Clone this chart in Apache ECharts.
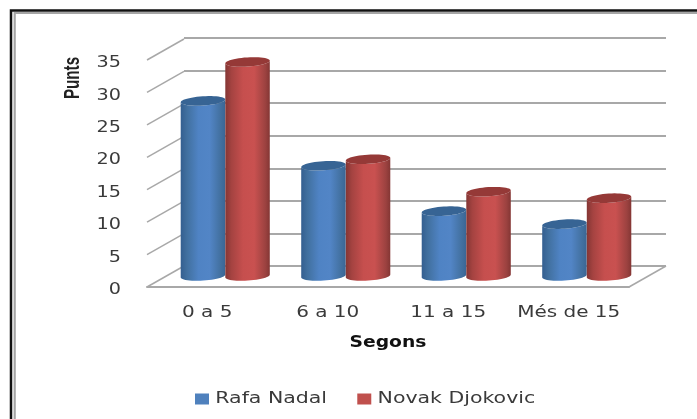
<!DOCTYPE html>
<html>
<head>
<meta charset="utf-8">
<style>
  html, body { margin: 0; padding: 0; background: #fff; }
  #main { width: 697px; height: 419px; }
</style>
<script src="https://cdn.jsdelivr.net/npm/echarts@6/dist/echarts.min.js"></script>
</head>
<body>
<div id="main"></div>
<script>
var categories = ['0 a 5', '6 a 10', '11 a 15', 'Més de 15'];
var seriesNames = ['Rafa Nadal', 'Novak Djokovic'];
var rafaNadal = [27, 17, 10, 8];
var novakDjokovic = [33, 18, 13, 12];
var ticks = [0, 5, 10, 15, 20, 25, 30, 35];

var FONT = '"DejaVu Sans"';
var TEXT = '#3a3a3a';
var GRID = '#a8a8a8';
var DEPTH_X = 37, DEPTH_Y = -21;

function pt(cx, cy, rx, ry, t) {
  // ellipse a bit tilted, like the excel 3d view
  var tilt = -0.065;
  var x = rx * Math.cos(t), y = ry * Math.sin(t);
  return [cx + x * Math.cos(tilt) - y * Math.sin(tilt), cy + x * Math.sin(tilt) + y * Math.cos(tilt)];
}

function cylinder(side, stops, topColor) {
  return function (params, api) {
    var idx = api.value(0);
    var top = api.coord([idx, api.value(1)]);
    var base = api.coord([idx, 0]);
    var rx = api.size([1, 0])[0] * 0.185;
    var cx = top[0] + side * rx;
    var ry = 4.6;
    var body = [], cap = [], i;
    for (i = 0; i <= 24; i++) body.push(pt(cx, base[1], rx, ry, Math.PI - Math.PI * i / 24));
    for (i = 0; i <= 24; i++) body.push(pt(cx, top[1], rx, ry, Math.PI * i / 24));
    for (i = 0; i < 48; i++) cap.push(pt(cx, top[1], rx, ry, Math.PI * 2 * i / 48));
    return {
      type: 'group',
      children: [
        {
          type: 'polygon',
          shape: { points: body },
          style: { fill: { type: 'linear', x: 0, y: 0, x2: 1, y2: 0, colorStops: stops } }
        },
        { type: 'polygon', shape: { points: cap }, style: { fill: topColor } }
      ]
    };
  };
}

var blueStops = [
  { offset: 0, color: '#345f90' }, { offset: 0.14, color: '#41709f' },
  { offset: 0.4, color: '#4f83c4' }, { offset: 0.65, color: '#5285c6' },
  { offset: 0.9, color: '#42709f' }, { offset: 1, color: '#3a6695' }
];
var redStops = [
  { offset: 0, color: '#843634' }, { offset: 0.14, color: '#a54341' },
  { offset: 0.4, color: '#c64f4e' }, { offset: 0.65, color: '#c95150' },
  { offset: 0.9, color: '#9c4240' }, { offset: 1, color: '#843634' }
];

function depthLines(params, api) {
  var box = params.coordSys;
  var p = api.coord([0, api.value(0)]);
  var x = box.x;
  var lines = [{
    type: 'line',
    shape: { x1: x, y1: p[1], x2: x + DEPTH_X, y2: p[1] + DEPTH_Y },
    style: { stroke: GRID, lineWidth: 1.5 }
  }];
  if (api.value(0) === 0) {
    lines.push({
      type: 'line',
      shape: { x1: x + box.width, y1: p[1], x2: x + box.width + DEPTH_X, y2: p[1] + DEPTH_Y },
      style: { stroke: GRID, lineWidth: 1.5 }
    });
  }
  return { type: 'group', children: lines };
}

var hiddenX = { type: 'category', data: categories, axisLine: { show: false }, axisTick: { show: false }, axisLabel: { show: false } };
var hiddenY = { type: 'value', min: 0, max: 35, interval: 5, axisLine: { show: false }, axisTick: { show: false }, axisLabel: { show: false }, splitLine: { show: false } };

var chart = echarts.init(document.getElementById('main'), null, { renderer: 'canvas' });
chart.setOption({
  animation: false,
  backgroundColor: '#fff',
  textStyle: { fontFamily: FONT },
  graphic: [
    { type: 'polyline', shape: { points: [[11, 419], [11, 10.5], [697, 10.5]] }, style: { fill: null, stroke: '#111', lineWidth: 2.5 } },
    { type: 'polyline', shape: { points: [[14.7, 419], [14.7, 13], [697, 13]] }, style: { fill: null, stroke: '#a5a5a5', lineWidth: 2.2 } },
    { type: 'text', x: 72.5, y: 78, rotation: Math.PI / 2, scaleX: 0.69, style: { text: 'Punts', font: 'bold 22px "Liberation Sans"', fill: '#222', align: 'center', verticalAlign: 'middle' } }
  ],
  grid: [
    { left: 147, right: 68, top: 60, bottom: 132 },   // front plane: labels
    { left: 184, right: 31, top: 38, bottom: 153 },   // back wall: gridlines
    { left: 165, right: 50, top: 49, bottom: 143 }    // middle: cylinders
  ],
  xAxis: [
    {
      type: 'category', gridIndex: 0, data: categories,
      axisLine: { lineStyle: { color: GRID, width: 2 } }, axisTick: { show: false },
      axisLabel: { margin: 18, fontSize: 16, color: TEXT, fontFamily: FONT },
      name: 'Segons', nameLocation: 'middle', nameGap: 48,
      nameTextStyle: { fontWeight: 'bold', fontSize: 16, color: '#111', fontFamily: FONT }
    },
    Object.assign({ gridIndex: 1 }, hiddenX),
    Object.assign({ gridIndex: 2 }, hiddenX)
  ],
  yAxis: [
    {
      type: 'value', gridIndex: 0, min: 0, max: 35, interval: 5,
      axisLine: { show: false }, axisTick: { show: false }, splitLine: { show: false },
      axisLabel: { margin: 26, fontSize: 16, color: TEXT, fontFamily: FONT }
    },
    Object.assign({}, hiddenY, { gridIndex: 1, splitLine: { show: true, lineStyle: { color: GRID, width: 2 } } }),
    Object.assign({}, hiddenY, { gridIndex: 2 })
  ],
  legend: {
    data: seriesNames,
    left: 190, top: 386,
    itemWidth: 14, itemHeight: 11, itemGap: 56,
    icon: 'rect',
    textStyle: { fontSize: 16, color: TEXT, fontFamily: FONT }
  },
  series: [
    {
      type: 'custom', name: 'depth', xAxisIndex: 0, yAxisIndex: 0, silent: true,
      data: ticks.map(function (t) { return [t]; }),
      encode: { y: 0 },
      renderItem: depthLines
    },
    {
      type: 'custom', name: seriesNames[0], xAxisIndex: 2, yAxisIndex: 2, z: 3,
      itemStyle: { color: '#4f81bd' },
      data: rafaNadal.map(function (v, i) { return [i, v]; }),
      encode: { x: 0, y: 1 },
      renderItem: cylinder(-1, blueStops, '#376494')
    },
    {
      type: 'custom', name: seriesNames[1], xAxisIndex: 2, yAxisIndex: 2, z: 4,
      itemStyle: { color: '#c0504d' },
      data: novakDjokovic.map(function (v, i) { return [i, v]; }),
      encode: { x: 0, y: 1 },
      renderItem: cylinder(1, redStops, '#953937')
    }
  ]
});

// the reference picture was stretched sideways, so widen the labels the same way
function stretchText(el) {
  if (el.type === 'text' && el.style && el.style.text !== 'Punts') {
    var s = String(el.style.text);
    if (/^\d+$/.test(s)) {          // y labels sit a little low in the reference
      el.scaleX = 1.2;
      el.y += 3;
    } else if (seriesNames.indexOf(s) >= 0) {
      el.scaleX = 1.28;
      el.x -= 4;
    } else if (s === 'Segons') {
      el.scaleX = 1.17;
    } else {
      el.scaleX = 1.25;
    }
    el.markRedraw();
  }
  if (el.isGroup && el.eachChild) el.eachChild(stretchText);
}
chart.getZr().storage.getRoots().forEach(stretchText);
</script>
</body>
</html>
